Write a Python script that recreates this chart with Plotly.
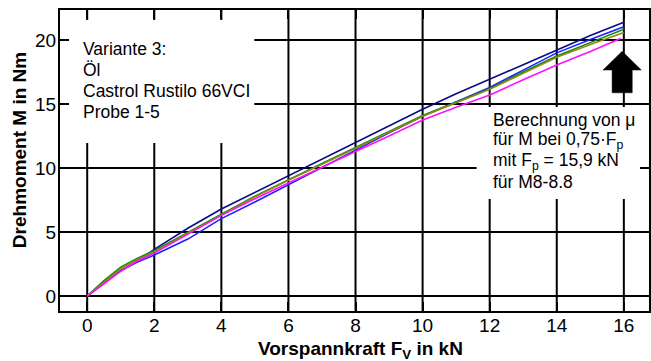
import plotly.graph_objects as go

# ---- data ----
force = [0, 0.25, 0.5, 1, 1.5, 2, 3, 4, 5, 6, 7, 8, 9, 10, 11, 12, 13, 14, 15, 16]
force_p5 = [0, 0.25, 0.5, 1, 1.5, 2, 3, 4, 5, 6, 7, 8, 9, 10, 11, 12, 13, 14, 15, 15.9]

probe1 = [0, 0.55, 1.1, 1.95, 2.75, 3.65, 5.3, 6.8, 8.1, 9.35, 10.7, 12.0, 13.3, 14.6, 15.8, 16.95, 18.1, 19.25, 20.35, 21.4]
probe2 = [0, 0.5, 1.0, 2.0, 2.65, 3.2, 4.45, 6.05, 7.35, 8.7, 10.1, 11.45, 12.75, 14.05, 15.2, 16.3, 17.65, 19.0, 20.05, 21.05]
probe3 = [0, 0.6, 1.2, 2.25, 2.95, 3.55, 5.0, 6.4, 7.8, 9.1, 10.35, 11.6, 12.85, 14.1, 15.15, 16.2, 17.5, 18.75, 19.8, 20.85]
probe4 = [0, 0.55, 1.1, 2.15, 2.85, 3.45, 4.9, 6.35, 7.75, 9.05, 10.3, 11.55, 12.8, 14.05, 15.1, 16.15, 17.4, 18.65, 19.65, 20.6]
probe5 = [0, 0.45, 0.95, 1.95, 2.75, 3.35, 4.85, 6.3, 7.6, 8.85, 10.05, 11.3, 12.5, 13.75, 14.75, 15.7, 16.9, 18.05, 19.1, 20.13]

series = [
    ("Probe 1", force, probe1, "#0a0a8c"),
    ("Probe 2", force, probe2, "#1f1fff"),
    ("Probe 3", force, probe3, "#108a10"),
    ("Probe 4", force, probe4, "#8c8a10"),
    ("Probe 5", force_p5, probe5, "#ff10ff"),
]

x_ticks = [0, 2, 4, 6, 8, 10, 12, 14, 16]
y_ticks = [0, 5, 10, 15, 20]

left_lines = ["Variante 3:", "Öl", "Castrol Rustilo 66VCI", "Probe 1-5"]
right_lines = ["Berechnung von μ", "für M bei 0,75·F<sub>p</sub>",
               "mit F<sub>p</sub> = 15,9 kN", "für M8-8.8"]

W, H = 651, 361
ML, MT, MR, MB = 60, 10, 0, 50
PW, PH = W - ML - MR, H - MT - MB
FONT = "Arial, Liberation Sans, sans-serif"
GRID = "black"


def px_x(px):
    return (px - ML) / PW


def px_y(py):
    return (H - MB - py) / PH


fig = go.Figure()
for name, xs, ys, col in series:
    fig.add_trace(go.Scatter(x=xs, y=ys, mode="lines", name=name,
                             line=dict(color=col, width=1.6), showlegend=False))

axis_common = dict(showline=True, linecolor="black", linewidth=2, mirror="ticks",
                   showgrid=False, zeroline=False,
                   ticks="inside", ticklen=9, tickwidth=2, tickcolor="black",
                   tickfont=dict(family=FONT, size=19, color="black"))

fig.update_xaxes(range=[-0.811, 16.75], tickvals=x_ticks, ticklabelstandoff=-4, **axis_common)
fig.update_yaxes(range=[-1.17, 22.35], tickvals=y_ticks, ticklabelstandoff=-2, **axis_common)

shapes = []
# grid lines at the tick positions (drawn under the traces)
for t in x_ticks:
    shapes.append(dict(type="line", xref="x", yref="paper", x0=t, x1=t, y0=0, y1=1,
                       line=dict(color=GRID, width=2), layer="below"))
for t in y_ticks:
    shapes.append(dict(type="line", xref="paper", yref="y", x0=0, x1=1, y0=t, y1=t,
                       line=dict(color=GRID, width=2), layer="below"))
# white boxes behind the two text blocks
shapes.append(dict(type="rect", xref="paper", yref="paper",
                   x0=0, x1=px_x(255), y0=px_y(143), y1=px_y(20),
                   fillcolor="white", line=dict(width=0), layer="below"))
shapes.append(dict(type="rect", xref="paper", yref="paper",
                   x0=px_x(478), x1=px_x(645), y0=px_y(199), y1=px_y(107),
                   fillcolor="white", line=dict(width=0), layer="below"))
# block arrow at F = 16 kN
shapes.append(dict(type="path", xref="x", yref="y",
                   path="M 15.38,17.66 L 15.95,19.12 L 16.52,17.66 L 16.25,17.66 "
                        "L 16.25,15.88 L 15.65,15.88 L 15.65,17.66 Z",
                   fillcolor="black", line=dict(color="black", width=0.5), layer="above"))

annots = []
for i, t in enumerate(left_lines):
    annots.append(dict(text=t, xref="paper", yref="paper", x=px_x(81), y=px_y(49 + 21 * i),
                       xanchor="left", yanchor="middle", showarrow=False,
                       font=dict(family=FONT, size=17.5, color="black")))
for i, t in enumerate(right_lines):
    annots.append(dict(text=t, xref="paper", yref="paper", x=px_x(492), y=px_y(120 + 20.6 * i),
                       xanchor="left", yanchor="middle", showarrow=False,
                       font=dict(family=FONT, size=17.5, color="black")))

annots.append(dict(text="<b>Vorspannkraft F<sub>V</sub> in kN</b>", xref="paper", yref="paper",
                   x=px_x(362), y=px_y(350), xanchor="center", yanchor="middle", showarrow=False,
                   font=dict(family=FONT, size=19, color="black")))
annots.append(dict(text="<b>Drehmoment M in Nm</b>", xref="paper", yref="paper",
                   x=px_x(19), y=px_y(150), xanchor="center", yanchor="middle", textangle=-90,
                   showarrow=False, font=dict(family=FONT, size=19, color="black")))

fig.update_layout(width=W, height=H, margin=dict(l=ML, r=MR, t=MT, b=MB),
                  plot_bgcolor="rgba(0,0,0,0)", paper_bgcolor="white",
                  annotations=annots, shapes=shapes,
                  font=dict(family=FONT, color="black"))

fig.write_html("out.html")
